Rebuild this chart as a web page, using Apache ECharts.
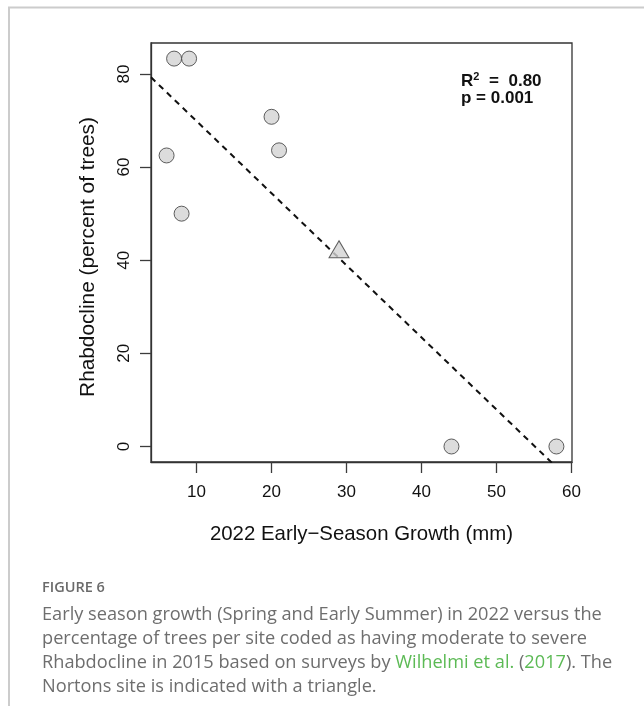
<!DOCTYPE html>
<html>
<head>
<meta charset="utf-8">
<script src="https://cdn.jsdelivr.net/npm/echarts@6/dist/echarts.min.js"></script>
<style>
  html, body { margin: 0; padding: 0; background: #fff; }
  #chart { width: 644px; height: 706px; }
</style>
</head>
<body>
<div id="chart"></div>
<script>
// Site-level observations: early-season growth (mm) vs. % trees with Rhabdocline
const siteGrowth = [6, 7, 8, 9, 20, 21, 44, 58];
const siteRhabdocline = [62.5, 83.3, 50.0, 83.3, 70.8, 63.6, 0, 0];

// Nortons site (drawn as a triangle)
const nortonsGrowth = [29];
const nortonsRhabdocline = [41.7];

// Fitted linear regression line
const fitIntercept = 85.35;
const fitSlope = -1.548;

// Axis extents and tick values
const xMin = 3.92, xMax = 60.08;
const yMin = -3.33, yMax = 86.65;
const xTicks = [10, 20, 30, 40, 50, 60];
const yTicks = [0, 20, 40, 60, 80];

const statsR2 = '0.80';
const statsP = '0.001';

const circlePoints = siteGrowth.map((g, i) => [g, siteRhabdocline[i]]);
const trianglePoints = nortonsGrowth.map((g, i) => [g, nortonsRhabdocline[i]]);
const fitLine = [xMin, xMax].map(x => [x, fitIntercept + fitSlope * x]);

const axisFont = '"Liberation Sans", Arial, Helvetica, sans-serif';
const capFont = '"Open Sans", "Noto Sans", sans-serif';
const capColor = '#6e6e6e';
const linkColor = '#5cba55';
const frameColor = '#333333';

const chart = echarts.init(document.getElementById('chart'), null, { renderer: 'canvas' });

chart.setOption({
  backgroundColor: '#ffffff',
  animation: false,
  grid: {
    show: true,
    left: 151, top: 43, right: 72, bottom: 244,
    borderColor: frameColor,
    borderWidth: 1.3,
    backgroundColor: 'transparent'
  },
  xAxis: {
    type: 'value',
    min: xMin, max: xMax,
    name: '2022 Early\u2212Season Growth (mm)',
    nameLocation: 'middle',
    nameGap: 62,
    nameTextStyle: { fontFamily: axisFont, fontSize: 20.4, color: '#111' },
    axisLine: { show: true, onZero: false, lineStyle: { color: frameColor, width: 1.3 } },
    splitLine: { show: false },
    axisTick: { show: true, inside: false, length: 11, customValues: xTicks, lineStyle: { color: '#3c3c3c', width: 1.3 } },
    axisLabel: { customValues: xTicks, margin: 22, fontFamily: axisFont, fontSize: 17, color: '#111' }
  },
  yAxis: {
    type: 'value',
    min: yMin, max: yMax,
    name: 'Rhabdocline (percent of trees)',
    nameLocation: 'middle',
    nameRotate: 90,
    nameGap: 52,
    nameTextStyle: { fontFamily: axisFont, fontSize: 20.8, color: '#111', padding: [0, 9, 0, 0] },
    axisLine: { show: true, onZero: false, lineStyle: { color: frameColor, width: 1.3 } },
    splitLine: { show: false },
    axisTick: { show: true, inside: false, length: 11, customValues: yTicks, lineStyle: { color: '#3c3c3c', width: 1.3 } },
    axisLabel: { customValues: yTicks, rotate: 90, margin: 18, fontFamily: axisFont, fontSize: 17, color: '#111' }
  },
  series: [
    {
      name: 'Fit',
      type: 'line',
      data: fitLine,
      clip: true,
      symbol: 'none',
      silent: true,
      lineStyle: { color: '#111', width: 2, type: [6, 5] },
      z: 1
    },
    {
      name: 'Sites',
      type: 'scatter',
      data: circlePoints,
      symbol: 'circle',
      symbolSize: 15,
      itemStyle: { color: '#d3d3d3', borderColor: '#3a3a3a', borderWidth: 1 },
      z: 3
    },
    {
      name: 'Nortons',
      type: 'scatter',
      data: trianglePoints,
      symbol: 'triangle',
      symbolSize: [20, 17],
      symbolOffset: [0, -3],
      itemStyle: { color: '#d3d3d3', borderColor: '#3a3a3a', borderWidth: 1 },
      z: 3
    }
  ],
  graphic: [
    // page frame rules
    { type: 'line', shape: { x1: 8, y1: 7.5, x2: 644, y2: 7.5 }, style: { stroke: '#cccccc', lineWidth: 2 }, silent: true },
    { type: 'line', shape: { x1: 9, y1: 7, x2: 9, y2: 706 }, style: { stroke: '#cccccc', lineWidth: 2 }, silent: true },
    // regression statistics
    {
      type: 'text', left: 461, top: 71,
      style: {
        text: '{b|R}{s|2}{b| =  ' + statsR2 + '}',
        rich: {
          b: { fontFamily: axisFont, fontSize: 17, fontWeight: 'bold', fill: '#111', lineHeight: 19, verticalAlign: 'bottom' },
          s: { fontFamily: axisFont, fontSize: 11, fontWeight: 'bold', fill: '#111', lineHeight: 19, verticalAlign: 'top', padding: [0, 5, 0, 0] }
        }
      }
    },
    {
      type: 'text', left: 461, top: 90,
      style: { text: 'p = ' + statsP, fontFamily: axisFont, fontSize: 17, fontWeight: 'bold', fill: '#111' }
    },
    // caption
    {
      type: 'text', x: 42, y: 580,
      style: { text: 'FIGURE 6', fontFamily: capFont, fontSize: 14.5, fontWeight: 600, fill: '#6a6a6a', textBaseline: 'alphabetic' }
    },
    {
      type: 'text', x: 42, y: 605.5,
      style: { text: 'Early season growth (Spring and Early Summer) in 2022 versus the', fontFamily: capFont, fontSize: 18.2, fill: capColor, textBaseline: 'alphabetic' }
    },
    {
      type: 'text', x: 42, y: 629.5,
      style: { text: 'percentage of trees per site coded as having moderate to severe', fontFamily: capFont, fontSize: 18.2, fill: capColor, textBaseline: 'alphabetic' }
    },
    {
      type: 'text', x: 42, y: 653.5,
      style: {
        text: '{t|Rhabdocline in 2015 based on surveys by }{g|Wilhelmi et al.}{t| (}{g|2017}{t|). The}',
        textBaseline: 'alphabetic',
        rich: {
          t: { fontFamily: capFont, fontSize: 18.2, fill: capColor },
          g: { fontFamily: capFont, fontSize: 18.2, fill: linkColor }
        }
      }
    },
    {
      type: 'text', x: 42, y: 677.5,
      style: { text: 'Nortons site is indicated with a triangle.', fontFamily: capFont, fontSize: 18.2, fill: capColor, textBaseline: 'alphabetic' }
    }
  ]
});
</script>
</body>
</html>
